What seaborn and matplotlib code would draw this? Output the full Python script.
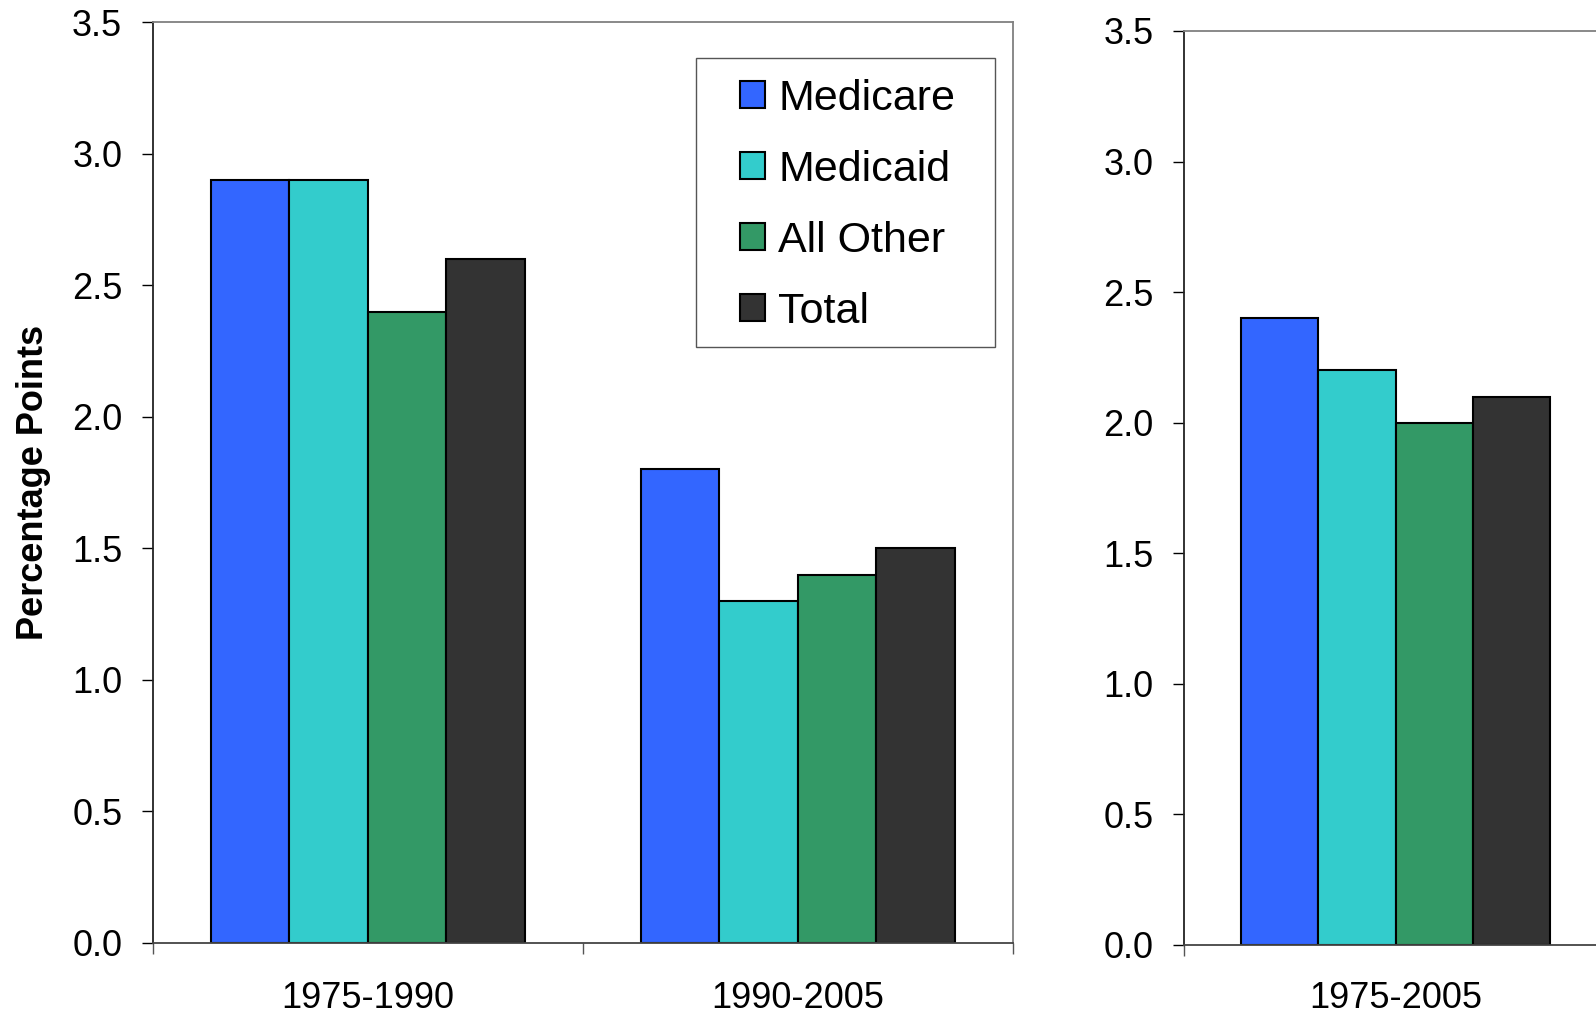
import numpy as np
import pandas as pd
import matplotlib
matplotlib.use('Agg')
import matplotlib.pyplot as plt
from matplotlib.patches import Patch, Rectangle
import seaborn as sns

# data
series = ['Medicare', 'Medicaid', 'All Other', 'Total']
colors = ['#3366FF', '#33CCCC', '#339966', '#333333']
periods_left = ['1975-1990', '1990-2005']
vals_left = {'Medicare': [2.9, 1.8],
             'Medicaid': [2.9, 1.3],
             'All Other': [2.4, 1.4],
             'Total': [2.6, 1.5]}
periods_right = ['1975-2005']
vals_right = {'Medicare': [2.4],
              'Medicaid': [2.2],
              'All Other': [2.0],
              'Total': [2.1]}

def to_df(periods, vals):
    rows = []
    for s in series:
        for p, v in zip(periods, vals[s]):
            rows.append({'period': p, 'series': s, 'value': v})
    return pd.DataFrame(rows)

df_l = to_df(periods_left, vals_left)
df_r = to_df(periods_right, vals_right)

sns.set_style('white')
plt.rcParams['font.family'] = ['Liberation Sans', 'DejaVu Sans']
plt.rcParams['text.color'] = 'black'
plt.rcParams['axes.labelcolor'] = 'black'
plt.rcParams['xtick.color'] = 'black'
plt.rcParams['ytick.color'] = 'black'

W, H = 1596, 1015
fig = plt.figure(figsize=(W / 100, H / 100), dpi=100)
ax1 = fig.add_axes([152.7 / W, 1 - 942.6 / H, 860.1 / W, 920.2 / H])
ax2 = fig.add_axes([1184 / W, 1 - 945 / H, 423 / W, 914 / H])

def draw(ax, df, periods, xpad):
    sns.barplot(data=df, x='period', y='value', hue='series', order=periods,
                hue_order=series, palette=colors, saturation=1, width=0.73,
                edgecolor='black', linewidth=1.5, ax=ax, legend=False)
    n = len(periods)
    ax.set_xlim(-0.5, n - 0.5)
    ax.set_ylim(0, 3.5)
    ax.set_yticks(np.arange(0, 3.51, 0.5))
    ax.set_yticklabels([f'{t:.1f}' for t in np.arange(0, 3.51, 0.5)])
    ax.set_xticks(np.arange(-0.5, n, 1.0))
    ax.set_xticklabels([''] * (n + 1))
    ax.set_xticks(np.arange(n), minor=True)
    ax.set_xticklabels(periods, minor=True)
    ax.tick_params(axis='y', which='major', direction='out', length=11 * 0.72,
                   width=1, pad=14, labelsize=26, left=True, color='black')
    ax.tick_params(axis='x', which='major', direction='out', length=11 * 0.72,
                   width=1, bottom=True, color='#555555')
    ax.tick_params(axis='x', which='minor', length=0, pad=xpad, labelsize=26,
                   bottom=True)
    ax.set_xlabel('')
    ax.set_ylabel('')
    ax.spines['left'].set_color('#222222')
    ax.spines['bottom'].set_color('#444444')
    ax.spines['top'].set_color('#808080')
    ax.spines['right'].set_color('#808080')
    for sp in ax.spines.values():
        sp.set_linewidth(1.3)
        sp.set_visible(True)

draw(ax1, df_l, periods_left, 27.5)
draw(ax2, df_r, periods_right, 26)

ax1.set_ylabel('Percentage Points', fontsize=26, fontweight='bold', labelpad=15)

# legend frame drawn separately so the inner padding matches
ax_l, ax_t, ax_w, ax_h = 152.7, 22.4, 860.1, 920.2
def ax_frac(px, py):
    return (px - ax_l) / ax_w, 1 - (py - ax_t) / ax_h

fx0, fy1 = ax_frac(696, 58)
fx1, fy0 = ax_frac(994.6, 347)
ax1.add_patch(Rectangle((fx0, fy0), fx1 - fx0, fy1 - fy0, transform=ax1.transAxes,
                        facecolor='white', edgecolor='#555555', linewidth=1.0,
                        zorder=4))

handles = [Patch(facecolor=c, edgecolor='black', linewidth=1.5, label=s)
           for s, c in zip(series, colors)]
leg = ax1.legend(handles=handles, loc='center left',
                 bbox_to_anchor=ax_frac(740, 205.3),
                 fontsize=31, frameon=False, borderpad=0, labelspacing=0.72,
                 handlelength=0.59, handleheight=0.59, handletextpad=0.3,
                 borderaxespad=0)
leg.set_zorder(5)

fig.savefig('out.png', dpi=100)
